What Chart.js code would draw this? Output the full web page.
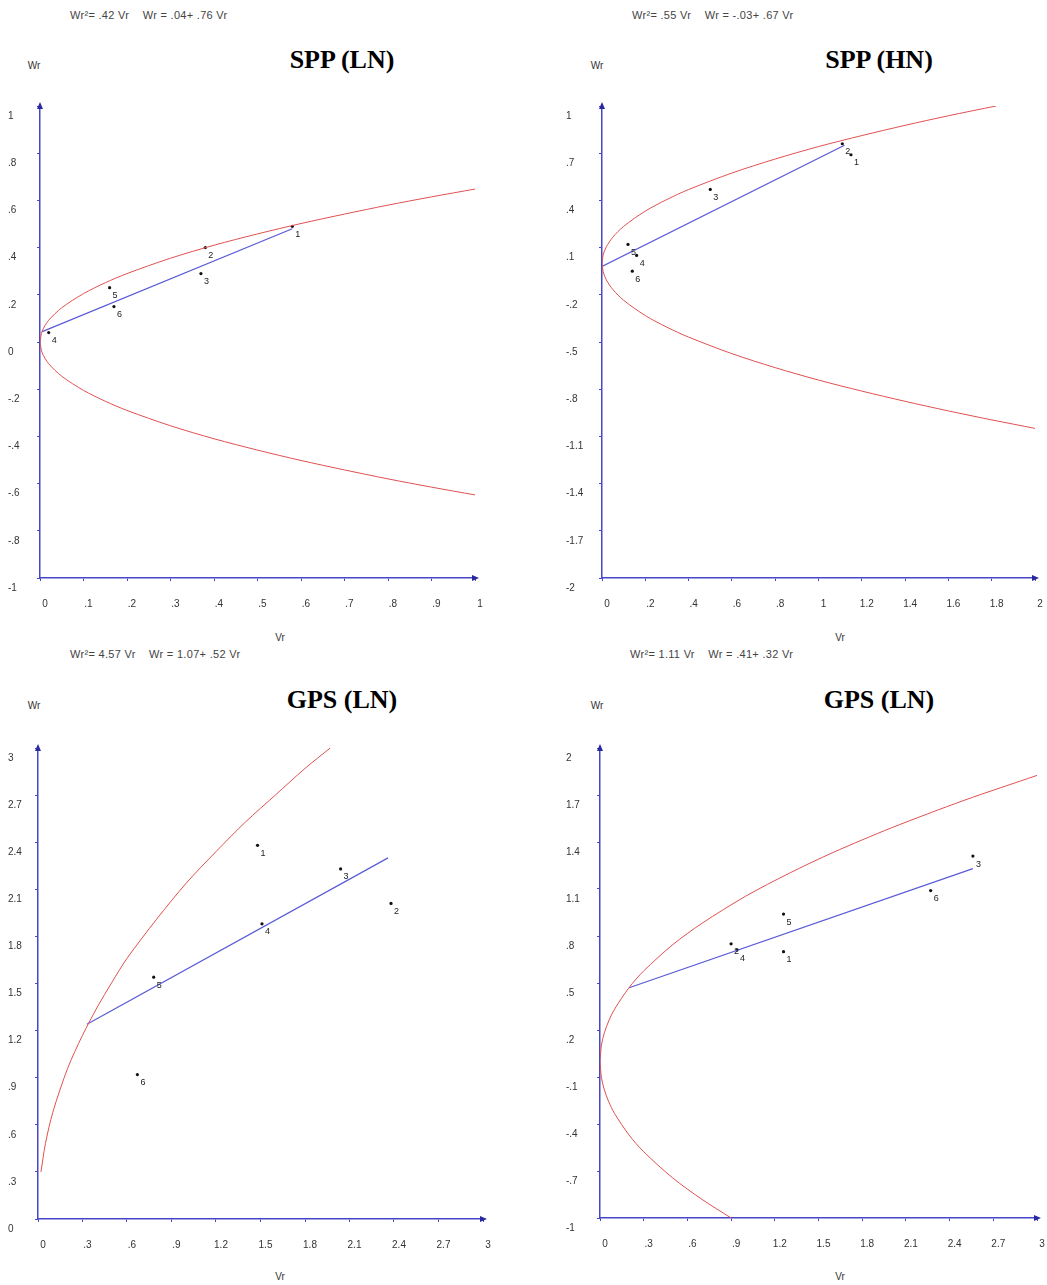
<!DOCTYPE html>
<html>
<head>
<meta charset="utf-8">
<script src="https://cdn.jsdelivr.net/npm/chart.js@4.4.1/dist/chart.umd.min.js"></script>
<style>
  body { margin: 0; background: #fff; }
  #page { position: relative; width: 1047px; height: 1285px; overflow: hidden; font-family: "Liberation Sans", Arial, sans-serif; }
  canvas { position: absolute; }
  .eq { position: absolute; font-size: 11px; letter-spacing: 0.3px; color: #444; white-space: pre; line-height: 1; }
  .ax { position: absolute; font-size: 10px; color: #333; line-height: 1; transform: translateX(-50%); }
  .ttl { position: absolute; font-family: "Liberation Serif", "Times New Roman", serif; font-weight: bold; font-size: 26px; color: #000; line-height: 1; transform: translateX(-50%); }
</style>
</head>
<body>
<div id="page">
  <div class="eq" style="left:70px;top:10px">Wr²= .42 Vr    Wr = .04+ .76 Vr</div>
  <div class="ax" style="left:34px;top:61px">Wr</div>
  <div class="ttl" style="left:342px;top:47px">SPP (LN)</div>
  <div class="ax" style="left:280px;top:633px">Vr</div>
  <canvas id="c1" width="500" height="545" style="left:0px;top:90px"></canvas>

  <div class="eq" style="left:632px;top:10px">Wr²= .55 Vr    Wr = -.03+ .67 Vr</div>
  <div class="ax" style="left:597px;top:61px">Wr</div>
  <div class="ttl" style="left:879px;top:47px">SPP (HN)</div>
  <div class="ax" style="left:840px;top:633px">Vr</div>
  <canvas id="c2" width="524" height="545" style="left:523px;top:90px"></canvas>

  <div class="eq" style="left:70px;top:649px">Wr²= 4.57 Vr    Wr = 1.07+ .52 Vr</div>
  <div class="ax" style="left:34px;top:701px">Wr</div>
  <div class="ttl" style="left:342px;top:687px">GPS (LN)</div>
  <div class="ax" style="left:280px;top:1272px">Vr</div>
  <canvas id="c3" width="500" height="545" style="left:0px;top:730px"></canvas>

  <div class="eq" style="left:630px;top:649px">Wr²= 1.11 Vr    Wr = .41+ .32 Vr</div>
  <div class="ax" style="left:597px;top:701px">Wr</div>
  <div class="ttl" style="left:879px;top:687px">GPS (LN)</div>
  <div class="ax" style="left:840px;top:1272px">Vr</div>
  <canvas id="c4" width="524" height="545" style="left:523px;top:730px"></canvas>
</div>

<script>
// parent labels, same in every panel
const parents = ['1', '2', '3', '4', '5', '6'];

// SPP (LN)
const sppLnVr = [0.58, 0.38, 0.37, 0.02, 0.16, 0.17];
const sppLnWr = [0.49, 0.40, 0.29, 0.04, 0.23, 0.15];
const sppLnCurveVr = [0, 0.005, 0.02, 0.05, 0.1, 0.15, 0.2, 0.3, 0.4, 0.5, 0.6, 0.7, 0.8, 0.9, 1];
const sppLnUpperWr = [0, 0.046, 0.092, 0.145, 0.205, 0.251, 0.29, 0.355, 0.41, 0.458, 0.502, 0.542, 0.58, 0.615, 0.648];
const sppLnLowerWr = [0, -0.046, -0.092, -0.145, -0.205, -0.251, -0.29, -0.355, -0.41, -0.458, -0.502, -0.542, -0.58, -0.615, -0.648];
const sppLnLineVr = [0.005, 0.58];
const sppLnLineWr = [0.044, 0.48];
const sppLnXTicks = [0, 0.1, 0.2, 0.3, 0.4, 0.5, 0.6, 0.7, 0.8, 0.9, 1];
const sppLnYTicks = [-1, -0.8, -0.6, -0.4, -0.2, 0, 0.2, 0.4, 0.6, 0.8, 1];

// SPP (HN)
const sppHnVr = [1.15, 1.11, 0.50, 0.16, 0.12, 0.14];
const sppHnWr = [0.69, 0.76, 0.47, 0.05, 0.12, -0.05];
const sppHnUpperVr = [0, 0.005, 0.02, 0.05, 0.1, 0.2, 0.3, 0.4, 0.6, 0.8, 1, 1.2, 1.4, 1.6, 1.82];
const sppHnUpperWr = [0, 0.052, 0.105, 0.166, 0.235, 0.332, 0.406, 0.469, 0.574, 0.663, 0.742, 0.812, 0.877, 0.938, 1.0];
const sppHnLowerVr = [0, 0.005, 0.02, 0.05, 0.1, 0.2, 0.3, 0.4, 0.6, 0.8, 1, 1.2, 1.4, 1.6, 1.8, 2];
const sppHnLowerWr = [0, -0.052, -0.105, -0.166, -0.235, -0.332, -0.406, -0.469, -0.574, -0.663, -0.742, -0.812, -0.877, -0.938, -0.995, -1.049];
const sppHnLineVr = [0, 1.12];
const sppHnLineWr = [-0.02, 0.75];
const sppHnXTicks = [0, 0.2, 0.4, 0.6, 0.8, 1, 1.2, 1.4, 1.6, 1.8, 2];
const sppHnYTicks = [-2, -1.7, -1.4, -1.1, -0.8, -0.5, -0.2, 0.1, 0.4, 0.7, 1];

// GPS (LN), left
const gpsAVr = [1.48, 2.38, 2.04, 1.51, 0.78, 0.67];
const gpsAWr = [2.38, 2.01, 2.23, 1.88, 1.54, 0.92];
const gpsACurveVr = [0.02, 0.05, 0.1, 0.2, 0.3, 0.4, 0.5, 0.6, 0.8, 1, 1.2, 1.4, 1.6, 1.8, 1.97];
const gpsAUpperWr = [0.30, 0.48, 0.68, 0.96, 1.17, 1.35, 1.51, 1.66, 1.91, 2.14, 2.34, 2.53, 2.70, 2.87, 3.0];
const gpsALineVr = [0.33, 2.36];
const gpsALineWr = [1.24, 2.30];
const gpsAXTicks = [0, 0.3, 0.6, 0.9, 1.2, 1.5, 1.8, 2.1, 2.4, 2.7, 3];
const gpsAYTicks = [0, 0.3, 0.6, 0.9, 1.2, 1.5, 1.8, 2.1, 2.4, 2.7, 3];

// GPS (LN), right
const gpsBVr = [1.26, 0.90, 2.56, 0.94, 1.26, 2.27];
const gpsBWr = [0.70, 0.75, 1.31, 0.71, 0.94, 1.09];
const gpsBUpperVr = [0, 0.01, 0.03, 0.06, 0.1, 0.2, 0.3, 0.5, 0.7, 1, 1.3, 1.6, 2, 2.5, 3];
const gpsBUpperWr = [0, 0.105, 0.182, 0.258, 0.333, 0.471, 0.577, 0.745, 0.881, 1.054, 1.201, 1.333, 1.49, 1.666, 1.825];
const gpsBLowerVr = [0, 0.01, 0.03, 0.06, 0.1, 0.2, 0.3, 0.5, 0.7, 0.9];
const gpsBLowerWr = [0, -0.105, -0.182, -0.258, -0.333, -0.471, -0.577, -0.745, -0.881, -1.0];
const gpsBLineVr = [0.2, 2.56];
const gpsBLineWr = [0.47, 1.23];
const gpsBXTicks = [0, 0.3, 0.6, 0.9, 1.2, 1.5, 1.8, 2.1, 2.4, 2.7, 3];
const gpsBYTicks = [-1, -0.7, -0.4, -0.1, 0.2, 0.5, 0.8, 1.1, 1.4, 1.7, 2];

const AXIS = '#4646c8';
const RED = '#e05050';
const LINE = '#5a5ad8';

const xy = (xs, ys) => xs.map((x, i) => ({x: x, y: ys[i]}));
const fmt = v => String(Math.round(v * 100) / 100).replace(/^(-?)0\./, '$1.');

const curve = (xs, ys) => ({
  data: xy(xs, ys), showLine: true, borderColor: RED, borderWidth: 1,
  pointRadius: 0, tension: 0.3
});
const regLine = (xs, ys) => ({
  data: xy(xs, ys), showLine: true, borderColor: LINE, borderWidth: 1.2, pointRadius: 0
});
const dots = (xs, ys) => ({
  data: xy(xs, ys), names: parents, showLine: false, pointRadius: 1.6,
  backgroundColor: '#111', borderColor: '#111', borderWidth: 0
});

// number beside each parent dot
const pointNames = {
  id: 'pointNames',
  afterDatasetsDraw(chart) {
    const ctx = chart.ctx;
    chart.data.datasets.forEach((ds, k) => {
      if (!ds.names) return;
      ctx.save();
      ctx.fillStyle = '#222';
      ctx.font = '9px "Liberation Sans", Arial, sans-serif';
      ctx.textBaseline = 'middle';
      chart.getDatasetMeta(k).data.forEach((p, i) => {
        ctx.fillText(ds.names[i], p.x + 3, p.y + 8);
      });
      ctx.restore();
    });
  }
};

// arrow heads at axis ends
const axisArrows = {
  id: 'axisArrows',
  afterDraw(chart) {
    const ctx = chart.ctx;
    const a = chart.chartArea;
    ctx.save();
    ctx.fillStyle = '#2828a0';
    ctx.beginPath();
    ctx.moveTo(a.left, a.top - 4);
    ctx.lineTo(a.left - 3, a.top + 3);
    ctx.lineTo(a.left + 3, a.top + 3);
    ctx.fill();
    ctx.beginPath();
    ctx.moveTo(a.right + 4, a.bottom);
    ctx.lineTo(a.right - 3, a.bottom - 3);
    ctx.lineTo(a.right - 3, a.bottom + 3);
    ctx.fill();
    ctx.restore();
  }
};

function makeChart(id, box, datasets, xTicks, yTicks) {
  const cv = document.getElementById(id);
  const cx = parseFloat(cv.style.left), cy = parseFloat(cv.style.top);
  const yWidth = box.l - box.labelLeft;
  const xHeight = 30;
  const tickFont = {family: '"Liberation Sans", Arial, sans-serif', size: 10};
  return new Chart(cv, {
    type: 'scatter',
    data: {datasets: datasets},
    options: {
      responsive: false,
      animation: false,
      devicePixelRatio: 1,
      layout: {
        padding: {
          left: box.labelLeft - cx,
          top: box.t - cy,
          right: cx + cv.width - box.r,
          bottom: cy + cv.height - box.b - xHeight
        }
      },
      plugins: {legend: {display: false}, tooltip: {enabled: false}},
      scales: {
        x: {
          type: 'linear',
          min: xTicks[0], max: xTicks[xTicks.length - 1],
          afterBuildTicks: s => { s.ticks = xTicks.map(v => ({value: v})); },
          afterFit: s => { s.height = xHeight; s.paddingLeft = 0; s.paddingRight = 0; },
          border: {display: true, color: AXIS, width: 1.5},
          grid: {drawOnChartArea: false, drawTicks: true, tickLength: 3, color: AXIS},
          ticks: {
            autoSkip: false, maxRotation: 0, padding: 17, labelOffset: 5,
            color: '#333', font: tickFont, callback: v => fmt(v)
          }
        },
        y: {
          type: 'linear',
          min: yTicks[0], max: yTicks[yTicks.length - 1],
          afterBuildTicks: s => { s.ticks = yTicks.map(v => ({value: v})); },
          afterFit: s => { s.width = yWidth; s.paddingTop = 0; s.paddingBottom = 0; },
          border: {display: true, color: AXIS, width: 1.5},
          grid: {drawOnChartArea: false, drawTicks: true, tickLength: 3, color: AXIS},
          ticks: {
            autoSkip: false, crossAlign: 'far', labelOffset: 10,
            color: '#333', font: tickFont, callback: v => fmt(v)
          }
        }
      }
    },
    plugins: [pointNames, axisArrows]
  });
}

makeChart('c1', {l: 40, t: 106, r: 475, b: 578, labelLeft: 8}, [
  curve(sppLnCurveVr, sppLnUpperWr),
  curve(sppLnCurveVr, sppLnLowerWr),
  regLine(sppLnLineVr, sppLnLineWr),
  dots(sppLnVr, sppLnWr)
], sppLnXTicks, sppLnYTicks);

makeChart('c2', {l: 602, t: 106, r: 1035, b: 578, labelLeft: 566}, [
  curve(sppHnUpperVr, sppHnUpperWr),
  curve(sppHnLowerVr, sppHnLowerWr),
  regLine(sppHnLineVr, sppHnLineWr),
  dots(sppHnVr, sppHnWr)
], sppHnXTicks, sppHnYTicks);

makeChart('c3', {l: 38, t: 748, r: 483, b: 1219, labelLeft: 8}, [
  curve(gpsACurveVr, gpsAUpperWr),
  regLine(gpsALineVr, gpsALineWr),
  dots(gpsAVr, gpsAWr)
], gpsAXTicks, gpsAYTicks);

makeChart('c4', {l: 600, t: 748, r: 1037, b: 1218, labelLeft: 566}, [
  curve(gpsBUpperVr, gpsBUpperWr),
  curve(gpsBLowerVr, gpsBLowerWr),
  regLine(gpsBLineVr, gpsBLineWr),
  dots(gpsBVr, gpsBWr)
], gpsBXTicks, gpsBYTicks);
</script>
</body>
</html>
